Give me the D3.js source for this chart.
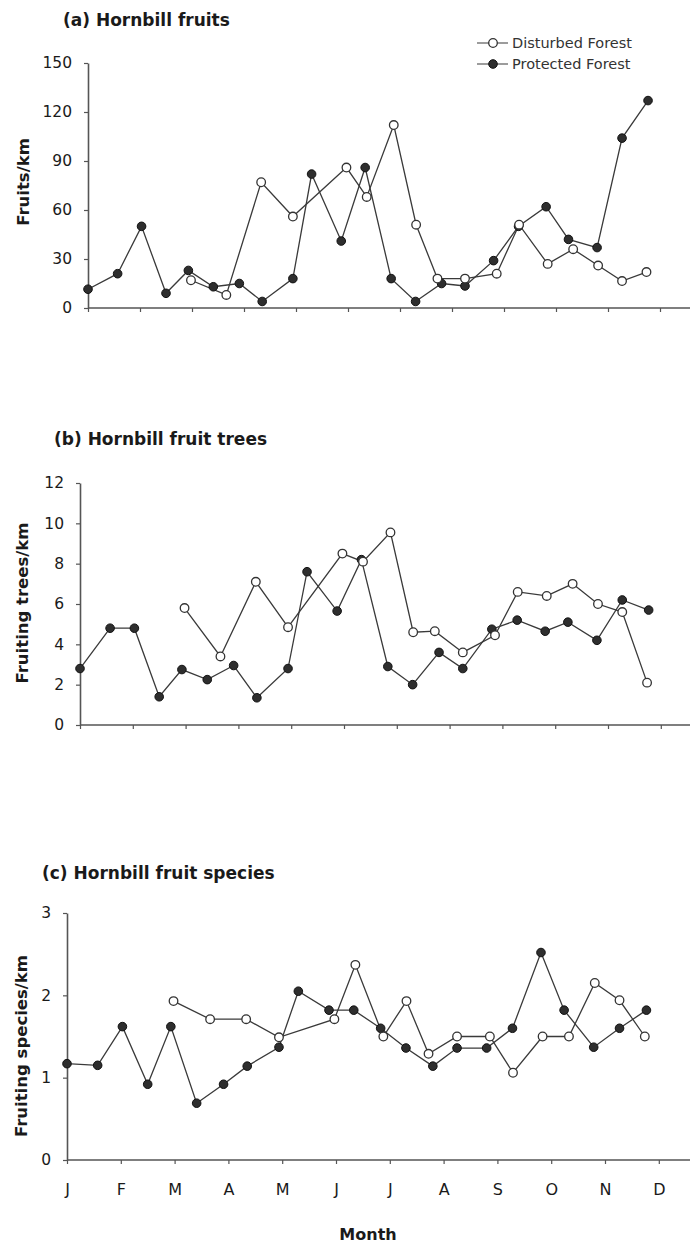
<!DOCTYPE html>
<html>
<head>
<meta charset="utf-8">
<script src="https://cdn.jsdelivr.net/npm/d3@7"></script>
<style>
  html, body { margin: 0; padding: 0; background: #fff; }
  svg { display: block; }
  text { font-family: "DejaVu Sans", "Liberation Sans", Arial, sans-serif; }
</style>
</head>
<body>
<svg id="chart" width="690" height="1244"></svg>
<script>
// ---------------- data ----------------
const monthLabels = ["J","F","M","A","M","J","J","A","S","O","N","D"];
const seriesNames = ["Disturbed Forest", "Protected Forest"];

// sampling dates (fraction of months since 1 January)
const datesProtected = [0, 0.57, 1.03, 1.5, 1.93, 2.41, 2.91, 3.35, 3.94, 4.3, 4.87, 5.33,
                        5.83, 6.3, 6.8, 7.25, 7.8, 8.28, 8.81, 9.24, 9.79, 10.27, 10.77];
const datesDisturbed = [1.98, 2.66, 3.33, 3.94, 4.97, 5.36, 5.88, 6.31, 6.72, 7.25, 7.86,
                        8.29, 8.84, 9.33, 9.81, 10.27, 10.74];

// (a) fruits / km
const fruitsProtected = [11.5, 21, 50, 9, 23, 13, 15, 4, 18, 82, 41, 86,
                         18, 4, 15, 13.5, 29, 50, 62, 42, 37, 104, 127];
const fruitsDisturbed = [17, 8, 77, 56, 86, 68, 112, 51, 18, 18, 21, 51, 27, 36, 26, 16.5, 22];
const fruitsTicks = [0, 30, 60, 90, 120, 150];

// (b) fruiting trees / km
const treesProtected = [2.8, 4.8, 4.8, 1.4, 2.75, 2.25, 2.95, 1.35, 2.8, 7.6, 5.65, 8.2,
                        2.9, 2.0, 3.6, 2.8, 4.75, 5.2, 4.65, 5.1, 4.2, 6.2, 5.7];
const treesDisturbed = [5.8, 3.4, 7.1, 4.85, 8.5, 8.1, 9.55, 4.6, 4.65, 3.6, 4.45, 6.6, 6.4, 7.0, 6.0, 5.6, 2.1];
const treesTicks = [0, 2, 4, 6, 8, 10, 12];

// (c) fruiting species / km
const speciesProtected = [1.17, 1.15, 1.62, 0.92, 1.62, 0.69, 0.92, 1.14, 1.37, 2.05, 1.82, 1.82,
                          1.6, 1.36, 1.14, 1.36, 1.36, 1.6, 2.52, 1.82, 1.37, 1.6, 1.82];
const speciesDisturbed = [1.93, 1.71, 1.71, 1.49, 1.71, 2.37, 1.5, 1.93, 1.29, 1.5, 1.5, 1.06, 1.5, 1.5, 2.15, 1.94, 1.5];
const speciesTicks = [0, 1, 2, 3];

// ---------------- drawing ----------------
const svg = d3.select("#chart");
const W = 690;
const ink = "#1a1a1a";
const lineCol = "#3a3a3a";
const axisCol = "#555";

function drawPanel(cfg) {
  const x = d3.scaleLinear().domain([0, 11]).range([cfg.x0, cfg.x0 + 11 * cfg.step]);
  const y = d3.scaleLinear().domain([0, d3.max(cfg.ticks)]).range([cfg.yBot, cfg.yTop]);

  // title
  svg.append("text")
    .attr("x", cfg.titleX).attr("y", cfg.titleY)
    .attr("font-size", 17).attr("font-weight", "bold").attr("fill", ink)
    .text(cfg.title);

  // y label
  svg.append("text")
    .attr("transform", `translate(${cfg.ylabX},${cfg.ylabY}) rotate(-90)`)
    .attr("text-anchor", "middle").attr("dy", "0.36em")
    .attr("font-size", 16.5).attr("font-weight", "bold").attr("fill", ink)
    .text(cfg.ylabel);

  // x axis
  const gx = svg.append("g").attr("transform", `translate(0,${cfg.yBot})`)
    .call(d3.axisBottom(x).tickValues(d3.range(12)).tickSize(4).tickSizeOuter(0)
      .tickPadding(20)
      .tickFormat(cfg.showMonths ? (i => monthLabels[i]) : () => ""));
  gx.select(".domain").remove();
  gx.append("line").attr("x1", cfg.x0).attr("x2", W).attr("y1", 0).attr("y2", 0)
    .attr("stroke", axisCol).attr("stroke-width", 1.6);
  gx.selectAll(".tick line").attr("stroke", axisCol).attr("stroke-width", 1.2);
  gx.selectAll(".tick text").attr("font-size", 16).attr("fill", ink)
    .attr("font-family", "DejaVu Sans");

  // y axis
  const gy = svg.append("g").attr("transform", `translate(${cfg.x0},0)`)
    .call(d3.axisLeft(y).tickValues(cfg.ticks).tickSize(4).tickSizeOuter(0).tickPadding(12)
      .tickFormat(d3.format("d")));
  gy.select(".domain").attr("stroke", axisCol).attr("stroke-width", 1.6);
  gy.selectAll(".tick line").attr("stroke", axisCol).attr("stroke-width", 1.2);
  gy.selectAll(".tick text").attr("font-size", 15.5).attr("fill", ink)
    .attr("font-family", "DejaVu Sans");

  const line = d3.line().x(d => x(d[0])).y(d => y(d[1]));
  const dist = datesDisturbed.map((d, i) => [d, cfg.disturbed[i]]);
  const prot = datesProtected.map((d, i) => [d, cfg.protected[i]]);

  svg.append("path").datum(prot).attr("d", line)
    .attr("fill", "none").attr("stroke", lineCol).attr("stroke-width", 1.3);
  svg.append("path").datum(dist).attr("d", line)
    .attr("fill", "none").attr("stroke", lineCol).attr("stroke-width", 1.3);

  svg.append("g").selectAll("circle").data(prot).join("circle")
    .attr("cx", d => x(d[0])).attr("cy", d => y(d[1])).attr("r", 4.3)
    .attr("fill", "#2e2e2e").attr("stroke", "#111").attr("stroke-width", 1);
  svg.append("g").selectAll("circle").data(dist).join("circle")
    .attr("cx", d => x(d[0])).attr("cy", d => y(d[1])).attr("r", 4.3)
    .attr("fill", "#fff").attr("stroke", "#333").attr("stroke-width", 1.3);
}

drawPanel({
  title: "(a) Hornbill fruits", titleX: 63, titleY: 26,
  ylabel: "Fruits/km", ylabX: 23, ylabY: 182,
  x0: 88, step: 52, yTop: 63, yBot: 308, ticks: fruitsTicks,
  protected: fruitsProtected, disturbed: fruitsDisturbed, showMonths: false
});
drawPanel({
  title: "(b) Hornbill fruit trees", titleX: 54, titleY: 445,
  ylabel: "Fruiting trees/km", ylabX: 22, ylabY: 603,
  x0: 80, step: 52.8, yTop: 483, yBot: 725, ticks: treesTicks,
  protected: treesProtected, disturbed: treesDisturbed, showMonths: false
});
drawPanel({
  title: "(c) Hornbill fruit species", titleX: 42, titleY: 879,
  ylabel: "Fruiting species/km", ylabX: 21, ylabY: 1046,
  x0: 67, step: 53.8, yTop: 913, yBot: 1160, ticks: speciesTicks,
  protected: speciesProtected, disturbed: speciesDisturbed, showMonths: true
});

// x title
svg.append("text").attr("x", 368).attr("y", 1240).attr("text-anchor", "middle")
  .attr("font-size", 16).attr("font-weight", "bold").attr("fill", ink).text("Month");

// legend
const legend = svg.append("g");
seriesNames.forEach((name, i) => {
  const ly = 43 + i * 21;
  legend.append("line").attr("x1", 477).attr("x2", 508).attr("y1", ly).attr("y2", ly)
    .attr("stroke", "#666").attr("stroke-width", 1.3);
  legend.append("circle").attr("cx", 493).attr("cy", ly).attr("r", 4.3)
    .attr("fill", i === 0 ? "#fff" : "#2e2e2e")
    .attr("stroke", i === 0 ? "#333" : "#111").attr("stroke-width", i === 0 ? 1.3 : 1);
  legend.append("text").attr("x", 512).attr("y", ly).attr("dy", "0.36em")
    .attr("font-size", 14.5).attr("fill", "#333").text(name);
});
</script>
</body>
</html>
